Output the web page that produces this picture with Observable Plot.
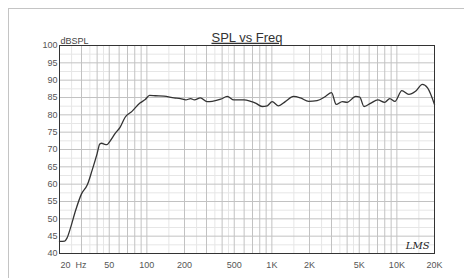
<!DOCTYPE html>
<html>
<head>
<meta charset="utf-8">
<script src="https://cdn.jsdelivr.net/npm/d3@7"></script>
<script src="https://cdn.jsdelivr.net/npm/@observablehq/plot@0.6"></script>
<style>
  body { margin: 0; background: #fff; }
  #wrap { position: relative; width: 464px; height: 278px; overflow: hidden; }
  #border { position: absolute; left: 8px; top: 8px; width: 500px; height: 320px; border: 1.5px solid #c4c4c4; box-sizing: border-box; }
  #chart { position: absolute; left: 0; top: 0; }
</style>
</head>
<body>
<div id="wrap"><div id="border"></div><div id="chart"></div></div>
<script>
const freq = [20, 22, 23, 24.5, 26.9, 30, 33.4, 36.4, 40, 42, 43.5, 46, 48, 50, 56, 61, 67, 76, 88, 97, 105, 117, 137, 165, 186, 205, 224, 240, 268, 303, 333, 390, 440, 497, 597, 676, 740, 835, 918, 1005, 1130, 1280, 1490, 1690, 1970, 2300, 2680, 3000, 3270, 3660, 4000, 4690, 5050, 5460, 6200, 7040, 7980, 8770, 9650, 10960, 12450, 14100, 16000, 17600, 20000];
const spl  = [43.5, 43.6, 44.5, 47.4, 52.4, 57.2, 59.8, 63.9, 68.8, 71.6, 71.8, 71.5, 71.4, 72.1, 74.7, 76.4, 79.3, 81.0, 83.4, 84.4, 85.6, 85.5, 85.4, 84.9, 84.7, 84.3, 84.7, 84.3, 84.9, 83.8, 83.9, 84.5, 85.3, 84.3, 84.3, 83.9, 83.4, 82.4, 82.6, 83.8, 82.6, 83.8, 85.3, 84.9, 83.9, 84.1, 85.3, 86.4, 83.0, 83.8, 83.6, 85.3, 85.1, 82.4, 83.4, 84.3, 83.6, 84.7, 83.9, 87.0, 85.9, 86.8, 88.8, 87.8, 83.0];
const xTicks = [20, 50, 100, 200, 500, 1000, 2000, 5000, 10000, 20000];
const xTickLabels = ["20  Hz", "50", "100", "200", "500", "1K", "2K", "5K", "10K", "20K"];
const yTicks = [40, 45, 50, 55, 60, 65, 70, 75, 80, 85, 90, 95, 100];
const yMinor = [42.5, 47.5, 52.5, 57.5, 62.5, 67.5, 72.5, 77.5, 82.5, 87.5, 92.5, 97.5];
const decades = [10, 100, 1000, 10000];
const steps = [1, 2, 3, 4, 5, 6, 7, 8, 9];
const halfSteps = [1.5, 2.5, 3.5, 4.5];

const xMajor = decades.flatMap(d => steps.map(s => s * d)).filter(v => v >= 20 && v <= 20000);
const xMinorGrid = decades.flatMap(d => halfSteps.map(s => s * d)).filter(v => v > 20 && v < 20000);
const data = freq.map((f, i) => ({f, v: spl[i]}));
const xLabelData = xTicks.map((t, i) => ({t, label: xTickLabels[i], first: i === 0}));

const font = "Liberation Sans, Arial, sans-serif";
const chart = Plot.plot({
  width: 464,
  height: 278,
  marginLeft: 59,
  marginRight: 30,
  marginTop: 45,
  marginBottom: 25,
  style: {fontFamily: font, fontSize: "9px", color: "#555", background: "transparent"},
  x: {type: "log", domain: [20, 20000], axis: null},
  y: {domain: [40, 100], axis: null},
  marks: [
    Plot.ruleX(xMinorGrid, {stroke: "#e6e6e6", strokeWidth: 1}),
    Plot.ruleY(yMinor, {stroke: "#e6e6e6", strokeWidth: 1}),
    Plot.ruleX(xMajor, {stroke: "#c2c2c2", strokeWidth: 1}),
    Plot.ruleY(yTicks, {stroke: "#c2c2c2", strokeWidth: 1}),
    Plot.line(data, {x: "f", y: "v", stroke: "#333", strokeWidth: 1.3, curve: "monotone-x"}),
    Plot.frame({stroke: "#333", strokeWidth: 1}),
    Plot.text(yTicks, {x: 20, y: d => d, dx: -2, textAnchor: "end", text: d => String(d), fill: "#555", fontSize: 9}),
    Plot.text(xLabelData.filter(d => !d.first), {x: "t", y: 40, dy: 8, lineAnchor: "top", text: "label", fill: "#555", fontSize: 9}),
    Plot.text(xLabelData.filter(d => d.first), {x: "t", y: 40, dy: 8, dx: 1, lineAnchor: "top", textAnchor: "start", text: "label", fill: "#555", fontSize: 9}),
    Plot.text(["dBSPL"], {frameAnchor: "top-left", dy: -8, dx: 1, textAnchor: "start", text: d => d, fill: "#444", fontSize: 9}),
    Plot.text(["SPL vs Freq"], {frameAnchor: "top", dy: -13, text: d => d, fill: "#333", fontSize: 13, className: "title"}),
    Plot.text(["LMS"], {frameAnchor: "bottom-right", dx: -5, dy: -5, textAnchor: "end", text: d => d, fill: "#222", fontSize: 10, fontStyle: "italic", fontFamily: "DejaVu Serif, serif"})
  ]
});
d3.select(chart).selectAll("g.title text").style("text-decoration", "underline").attr("text-decoration", "underline");
d3.select(chart).selectAll("text").style("white-space", "pre");
document.getElementById("chart").append(chart);
</script>
</body>
</html>
